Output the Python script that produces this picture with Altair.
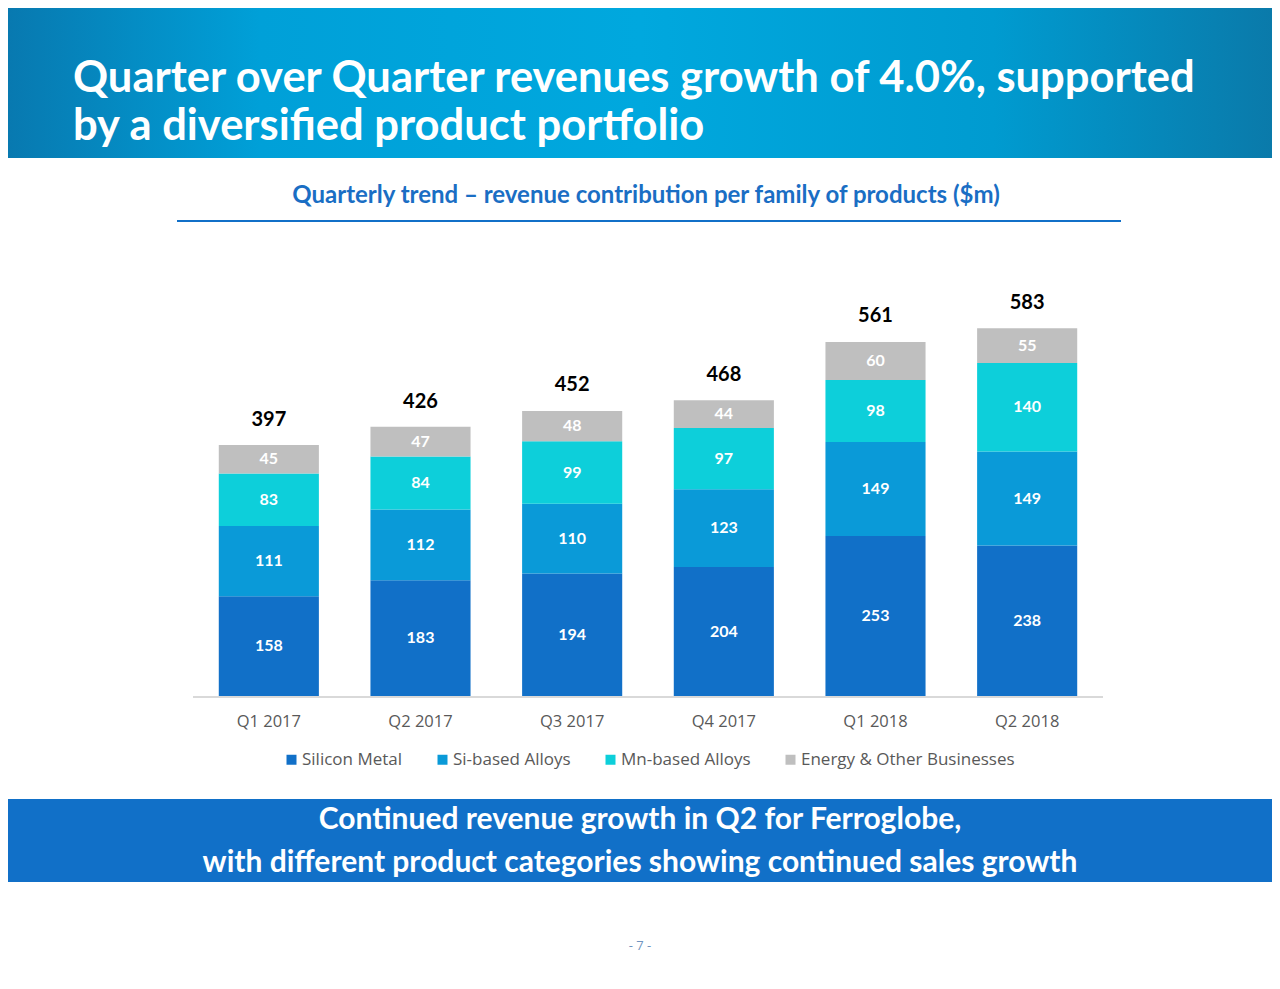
import altair as alt
import pandas as pd

# ---------------- data ----------------
quarters = ["Q1 2017", "Q2 2017", "Q3 2017", "Q4 2017", "Q1 2018", "Q2 2018"]
families = ["Silicon Metal", "Si-based Alloys", "Mn-based Alloys", "Energy & Other Businesses"]
silicon_metal = [158, 183, 194, 204, 253, 238]
si_based_alloys = [111, 112, 110, 123, 149, 149]
mn_based_alloys = [83, 84, 99, 97, 98, 140]
energy_other = [45, 47, 48, 44, 60, 55]
totals = [397, 426, 452, 468, 561, 583]

family_colors = ["#1170c8", "#0a9ad8", "#0dcfda", "#bfbfbf"]

title_line1 = "Quarter over Quarter revenues growth of 4.0%, supported"
title_line2 = "by a diversified product portfolio"
subtitle = "Quarterly trend \u2013 revenue contribution per family of products ($m)"
footer_line1 = "Continued revenue growth in Q2 for Ferroglobe,"
footer_line2 = "with different product categories showing continued sales growth"
page_number = "- 7 -"

series = [silicon_metal, si_based_alloys, mn_based_alloys, energy_other]
rows = []
for i, q in enumerate(quarters):
    for k, fam in enumerate(families):
        rows.append({"quarter": q, "family": fam, "order": k, "value": series[k][i]})
df = pd.DataFrame(rows)
tot_df = pd.DataFrame({"quarter": quarters, "total": totals})

# ---------------- layout helpers ----------------
M = 8  # page margin


def px(v):
    return v - M


W, H = 1264, 960
one = alt.Data(values=[{}])

xscale = alt.Scale(domain=quarters, range=[px(193), px(1103)], paddingInner=0.34, paddingOuter=0.17)
yscale = alt.Scale(domain=[0, 600], range=[px(696), px(696) - 0.632 * 600])
X = alt.X("quarter:N", scale=xscale, axis=None)

# ---------------- decorations ----------------
header = alt.Chart(one).mark_rect(
    color=alt.Gradient(
        gradient="linear",
        stops=[
            alt.GradientStop(color="#0879b0", offset=0),
            alt.GradientStop(color="#00a0d8", offset=0.2),
            alt.GradientStop(color="#00a8de", offset=0.5),
            alt.GradientStop(color="#009bd0", offset=0.78),
            alt.GradientStop(color="#0a7aaa", offset=1),
        ],
        x1=0, x2=1, y1=0, y2=0,
    )
).encode(x=alt.value(0), x2=alt.value(W), y=alt.value(0), y2=alt.value(px(158)))


def text_layer(txt, x, y, **kw):
    return alt.Chart(one).mark_text(**kw).encode(
        x=alt.value(x), y=alt.value(y), text=alt.value(txt)
    )


t1 = text_layer(title_line1, px(73), px(92), align="left", baseline="alphabetic",
                font="Lato", fontSize=43.5, fontWeight="bold", color="white")
t2 = text_layer(title_line2, px(73), px(140), align="left", baseline="alphabetic",
                font="Lato", fontSize=43.5, fontWeight="bold", color="white")
sub = text_layer(subtitle, px(646), px(203), align="center", baseline="alphabetic",
                 font="Lato", fontSize=24, fontWeight="bold", color="#1a6ec4")
subline = alt.Chart(one).mark_rule(color="#1170c8", strokeWidth=2).encode(
    x=alt.value(px(177)), x2=alt.value(px(1121)), y=alt.value(px(221))
)

footer = alt.Chart(one).mark_rect(color="#1170c8").encode(
    x=alt.value(0), x2=alt.value(W), y=alt.value(px(799)), y2=alt.value(px(882))
)
f1 = text_layer(footer_line1, px(640), px(829), align="center", baseline="alphabetic",
                font="Lato", fontSize=30, fontWeight="bold", color="white")
f2 = text_layer(footer_line2, px(640), px(872), align="center", baseline="alphabetic",
                font="Lato", fontSize=30, fontWeight="bold", color="white")
pn = text_layer(page_number, px(640), px(946), align="center", baseline="middle",
                font="Open Sans", fontSize=13, color="#6f94c0")

base_axis = alt.Chart(one).mark_rule(color="#d9d9d9", strokeWidth=2).encode(
    x=alt.value(px(193)), x2=alt.value(px(1103)), y=alt.value(px(697))
)

# ---------------- chart ----------------
stacked = alt.Chart(df).transform_stack(
    stack="value", groupby=["quarter"], as_=["y0", "y1"],
    sort=[alt.SortField("order", order="ascending")],
)

bars = stacked.mark_bar().encode(
    x=X,
    y=alt.Y("y0:Q", scale=yscale, axis=None),
    y2="y1:Q",
    color=alt.Color(
        "family:N",
        scale=alt.Scale(domain=families, range=family_colors),
        legend=alt.Legend(
            title=None, orient="none", legendX=px(283), legendY=px(751),
            direction="horizontal", symbolType="square", symbolSize=100,
            symbolStrokeWidth=0, symbolOpacity=1, labelFont="Open Sans",
            labelFontSize=17, labelColor="#595959", labelOffset=2,
            labelLimit=400, columnPadding=31, padding=0,
        ),
    ),
)

seg_labels = stacked.transform_calculate(
    ymid="(datum.y0 + datum.y1) / 2"
).mark_text(
    color="white", font="Lato", fontSize=16, fontWeight="bold", baseline="middle"
).encode(x=X, y=alt.Y("ymid:Q", scale=yscale, axis=None), text="value:Q")

total_labels = alt.Chart(tot_df).mark_text(
    color="black", font="Lato", fontSize=20, fontWeight="bold", baseline="middle", dy=-25
).encode(x=X, y=alt.Y("total:Q", scale=yscale, axis=None), text="total:Q")

x_labels = alt.Chart(tot_df).mark_text(
    color="#595959", font="Open Sans", fontSize=16.5, baseline="middle"
).encode(x=X, y=alt.value(px(722)), text="quarter:N")

chart = alt.layer(
    header, t1, t2, sub, subline, base_axis, bars, seg_labels, total_labels,
    x_labels, footer, f1, f2, pn,
).properties(
    width=W, height=H, padding=0,
    autosize=alt.AutoSizeParams(type="fit", contains="padding"),
).configure_view(stroke=None)

chart.save("out.html", embed_options={"renderer": "svg", "actions": False})
